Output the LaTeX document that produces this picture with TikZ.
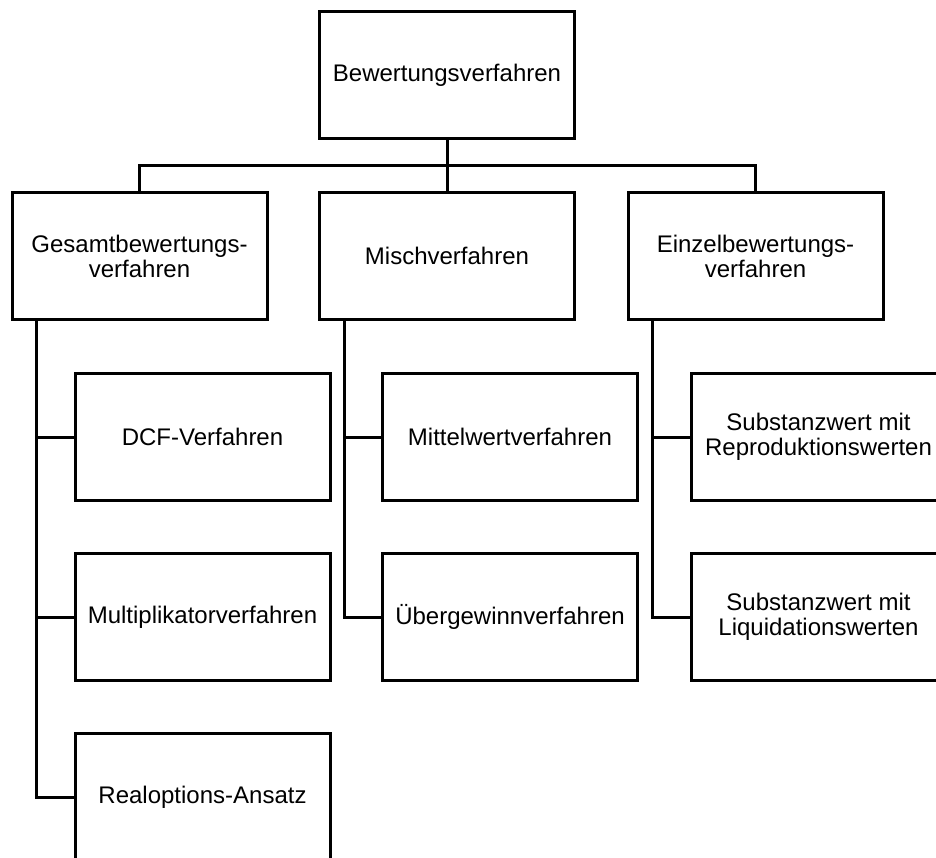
\documentclass[tikz,border=0pt]{standalone}
\usepackage{fontspec}
\setmainfont{Liberation Sans}
\begin{document}
\begin{tikzpicture}[x=1pt,y=-1pt,
  box/.style={draw=black, line width=3pt, rectangle, minimum width=255pt, minimum height=127pt,
    inner sep=2pt, align=center, font=\fontsize{24}{25}\selectfont},
  conn/.style={draw=black, line width=3pt}]
\useasboundingbox (0,0) rectangle (936,858);
\clip (0,0) rectangle (936,858);
\fill[white] (0,0) rectangle (936,858);

\node[box] (top) at (447,75.5) {Bewertungsverfahren};

\node[box] (gesamt) at (139.5,256) {Gesamtbewertungs-\\verfahren};
\node[box] (misch) at (447,256) {Mischverfahren};
\node[box] (einzel) at (755.5,256) {Einzelbewertungs-\\verfahren};

\node[box] (dcf) at (202.5,437) {DCF-Verfahren};
\node[box] (multi) at (202.5,617) {Multiplikatorverfahren};
\node[box] (real) at (202.5,797) {Realoptions-Ansatz};

\node[box] (mittel) at (510,437) {Mittelwertverfahren};
\node[box] (ueber) at (510,617) {Übergewinnverfahren};

\node[box] (repro) at (818.5,437) {Substanzwert mit\\Reproduktionswerten};
\node[box] (liqui) at (818.5,617) {Substanzwert mit\\Liquidationswerten};

\coordinate (bus) at (447,166);
\draw[conn] (top.south) -- (misch.north);
\draw[conn] (gesamt.north) |- (bus) -| (einzel.north);

\coordinate (gt) at ([xshift=25.5pt]gesamt.south west);
\coordinate (mt) at ([xshift=26pt]misch.south west);
\coordinate (et) at ([xshift=25.5pt]einzel.south west);

\draw[conn] (gt) |- (dcf.west);
\draw[conn] (gt) |- (multi.west);
\draw[conn] (gt) |- (real.west);

\draw[conn] (mt) |- (mittel.west);
\draw[conn] (mt) |- (ueber.west);

\draw[conn] (et) |- (repro.west);
\draw[conn] (et) |- (liqui.west);
\end{tikzpicture}
\end{document}
